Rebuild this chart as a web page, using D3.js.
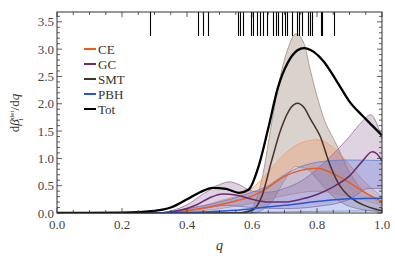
<!DOCTYPE html>
<html><head><meta charset="utf-8">
<script src="https://cdn.jsdelivr.net/npm/d3@7"></script>
<style>body{margin:0;background:#fff}svg{display:block}text{font-family:"Liberation Serif","DejaVu Serif",serif}</style>
</head><body>
<svg id="c" width="395" height="270"></svg>
<script>
// ---- data ----
const totQ = [0,0.2,0.3,0.35,0.4,0.44,0.48,0.52,0.56,0.59,0.62,0.65,0.68,0.71,0.74,0.76,0.79,0.82,0.86,0.9,0.94,0.97,1.0];
const totV = [0,0.005,0.04,0.1,0.25,0.38,0.46,0.44,0.37,0.43,0.85,1.55,2.3,2.75,2.98,3.02,2.95,2.78,2.42,2.04,1.78,1.6,1.42];

const smtQ = [0,0.55,0.6,0.63,0.66,0.69,0.72,0.74,0.76,0.78,0.81,0.84,0.87,0.9,0.95,1.0];
const smtV = [0,0,0.05,0.3,0.95,1.55,1.93,2.01,1.93,1.72,1.4,0.88,0.5,0.3,0.13,0.04];
const smtHiQ = [0,0.58,0.61,0.635,0.655,0.68,0.71,0.735,0.76,0.78,0.82,0.86,0.9,0.94,0.97,1.0];
const smtHiV = [0,0,0.2,0.75,1.45,2.3,3.0,3.28,3.1,2.6,1.75,1.25,0.75,0.42,0.28,0.18];
const smtLoQ = [0,0.6,0.66,0.7,0.735,0.77,0.81,0.85,0.9,1.0];
const smtLoV = [0,0,0.2,0.6,0.85,0.8,0.55,0.3,0.12,0.02];

const ceQ = [0,0.3,0.4,0.45,0.5,0.55,0.6,0.65,0.7,0.75,0.8,0.85,0.9,0.95,1.0];
const ceV = [0,0,0.04,0.09,0.15,0.22,0.31,0.47,0.67,0.78,0.82,0.72,0.55,0.37,0.21];
const ceHiQ = [0,0.3,0.4,0.5,0.6,0.65,0.7,0.75,0.8,0.85,0.9,0.95,1.0];
const ceHiV = [0,0,0.07,0.22,0.45,0.75,1.08,1.28,1.34,1.2,0.88,0.55,0.3];
const ceLoQ = [0,0.3,0.5,0.6,0.7,0.8,0.9,1.0];
const ceLoV = [0,0,0.08,0.18,0.32,0.4,0.3,0.14];

const gcQ = [0,0.3,0.38,0.43,0.47,0.51,0.55,0.6,0.65,0.7,0.75,0.8,0.85,0.9,0.94,0.97,0.985,1.0];
const gcV = [0,0,0.05,0.15,0.28,0.35,0.33,0.25,0.2,0.2,0.25,0.34,0.48,0.68,0.95,1.12,1.08,0.95];
const gcHiQ = [0,0.3,0.4,0.45,0.5,0.53,0.56,0.6,0.65,0.7,0.75,0.8,0.85,0.9,0.94,0.965,0.985,1.0];
const gcHiV = [0,0,0.15,0.35,0.52,0.57,0.52,0.4,0.38,0.45,0.58,0.8,1.08,1.4,1.68,1.8,1.62,1.35];
const gcLoQ = [0,0.3,0.45,0.52,0.6,0.7,0.8,0.9,0.96,1.0];
const gcLoV = [0,0,0.08,0.14,0.1,0.08,0.12,0.25,0.45,0.45];

const pbhQ = [0,0.3,0.45,0.55,0.6,0.7,0.8,0.9,1.0];
const pbhV = [0,0,0.02,0.05,0.08,0.14,0.21,0.26,0.27];
const pbhHiQ = [0,0.3,0.4,0.5,0.6,0.65,0.7,0.75,0.8,0.85,0.9,1.0];
const pbhHiV = [0,0,0.08,0.2,0.38,0.5,0.7,0.85,0.93,0.96,0.97,0.96];
const pbhLoQ = [0,0.4,0.6,0.8,1.0];
const pbhLoV = [0,0,0.01,0.03,0.04];

const rugQ = [0.286,0.434,0.449,0.465,0.557,0.563,0.572,0.597,0.603,0.615,0.625,0.634,0.646,0.665,0.674,0.680,0.692,0.702,0.708,0.723,0.738,0.745,0.754,0.772,0.778,0.785,0.812,0.815,0.852];

const legendNames = ["CE","GC","SMT","PBH","Tot"];
const xTicks = [0,0.2,0.4,0.6,0.8,1.0];
const yTicks = [0,0.5,1.0,1.5,2.0,2.5,3.0,3.5];

// ---- layout ----
const L=57,R=382,T=12,B=213;
const x=d3.scaleLinear().domain([0,1]).range([L,R]);
const y=d3.scaleLinear().domain([0,3.68]).range([B,T]);
const svg=d3.select("#c");

function pts(q,v){return q.map((d,i)=>[d,v[i]]);}
const line=d3.line().x(d=>x(d[0])).y(d=>y(d[1])).curve(d3.curveMonotoneX);

function band(hiQ,hiV,loQ,loV,fill,stroke){
  const g=svg.append("g");
  const hi=line(pts(hiQ,hiV));
  const lo=line(pts(loQ,loV).slice().reverse());
  g.append("path").attr("d",hi+"L"+lo.slice(1)+"Z").attr("fill",fill).attr("stroke","none");
  g.append("path").attr("d",hi).attr("fill","none").attr("stroke",stroke).attr("stroke-width",0.8);
  g.append("path").attr("d",line(pts(loQ,loV))).attr("fill","none").attr("stroke",stroke).attr("stroke-width",0.8);
}
svg.append("clipPath").attr("id","pc").append("rect").attr("x",L).attr("y",T).attr("width",R-L).attr("height",B-T);

band(smtHiQ,smtHiV,smtLoQ,smtLoV,"rgba(170,155,145,0.45)","#a08c80");
band(ceHiQ,ceHiV,ceLoQ,ceLoV,"rgba(240,150,95,0.32)","#f0a070");
band(gcHiQ,gcHiV,gcLoQ,gcLoV,"rgba(130,80,135,0.25)","#957095");
band(pbhHiQ,pbhHiV,pbhLoQ,pbhLoV,"rgba(90,115,225,0.3)","#6080e0");

const series=[
  {q:ceQ,v:ceV,c:"#f25a1c",w:1.5},
  {q:gcQ,v:gcV,c:"#6a2c6e",w:1.5},
  {q:smtQ,v:smtV,c:"#4a3226",w:1.5},
  {q:pbhQ,v:pbhV,c:"#2356dc",w:1.5},
  {q:totQ,v:totV,c:"#000",w:2.3}
];
series.forEach(s=>svg.append("path").attr("d",line(pts(s.q,s.v))).attr("fill","none").attr("stroke",s.c).attr("stroke-width",s.w).attr("clip-path","url(#pc)"));

// rug
svg.append("g").selectAll("line").data(rugQ).join("line")
  .attr("x1",d=>Math.round(x(d))+0.5).attr("x2",d=>Math.round(x(d))+0.5).attr("y1",T).attr("y2",36)
  .attr("stroke","#000").attr("stroke-width",1.1);

// frame & ticks
const axC="#333";
svg.append("rect").attr("x",L).attr("y",T).attr("width",R-L).attr("height",B-T).attr("fill","none").attr("stroke",axC).attr("stroke-width",1);
const tg=svg.append("g").attr("stroke",axC).attr("stroke-width",0.8);
d3.range(0,1.0001,0.05).forEach(t=>{
  const major=Math.abs(t*5-Math.round(t*5))<1e-6, len=major?5:3, xx=x(t);
  tg.append("line").attr("x1",xx).attr("x2",xx).attr("y1",B).attr("y2",B-len);
  tg.append("line").attr("x1",xx).attr("x2",xx).attr("y1",T).attr("y2",T+len);
});
d3.range(0,3.6501,0.1).forEach(t=>{
  const major=Math.abs(t*2-Math.round(t*2))<1e-6, len=major?5:3, yy=y(t);
  tg.append("line").attr("x1",L).attr("x2",L+len).attr("y1",yy).attr("y2",yy);
  tg.append("line").attr("x1",R).attr("x2",R-len).attr("y1",yy).attr("y2",yy);
});
svg.append("g").selectAll("text").data(xTicks).join("text")
  .attr("x",d=>x(d)).attr("y",B+16).attr("text-anchor","middle")
  .attr("font-size",13).attr("fill","#444").text(d=>d.toFixed(1));
svg.append("g").selectAll("text").data(yTicks).join("text")
  .attr("x",L-3).attr("y",d=>y(d)+4.5).attr("text-anchor","end")
  .attr("font-size",13).attr("fill","#444").text(d=>d.toFixed(1));

// axis labels
svg.append("text").attr("x",(L+R)/2).attr("y",250).attr("text-anchor","middle")
  .attr("font-size",14).attr("font-style","italic").attr("fill","#333").text("q");
const yl=svg.append("text").attr("transform","translate(19,113) rotate(-90)").attr("text-anchor","middle")
  .attr("font-size",13).attr("fill","#333");
yl.append("tspan").text("d");
yl.append("tspan").attr("font-style","italic").text("β");
yl.append("tspan").attr("font-size",7).attr("dy",-5).text("det");
yl.append("tspan").attr("font-size",8).attr("font-style","italic").attr("dx",-10).attr("dy",9).text("i");
yl.append("tspan").attr("dy",-4).attr("dx",8).text("/d");
yl.append("tspan").attr("font-style","italic").text("q");

// legend
const lc=series.map(s=>s.c);
const lg=svg.append("g");
legendNames.forEach((n,i)=>{
  const yy=49+i*15;
  lg.append("line").attr("x1",84).attr("x2",96).attr("y1",yy).attr("y2",yy).attr("stroke",lc[i]).attr("stroke-width",2);
  lg.append("text").attr("x",98).attr("y",yy+4.5).attr("font-size",13).attr("fill","#333").text(n);
});
</script>
</body></html>
